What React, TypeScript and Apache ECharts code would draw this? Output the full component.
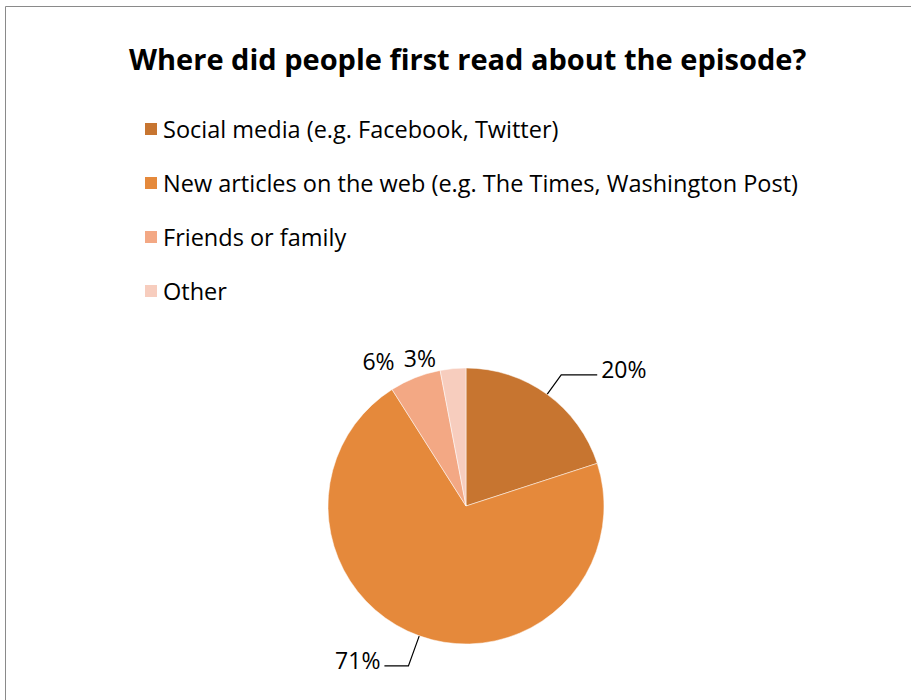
import React, { useEffect, useRef } from "react";
import * as echarts from "echarts";

const categories = [
  "Social media (e.g. Facebook, Twitter)",
  "New articles on the web (e.g. The Times, Washington Post)",
  "Friends or family",
  "Other",
];
const values = [20, 71, 6, 3];
const colors = ["#C77530", "#E5893B", "#F3A884", "#F7CDBE"];
const titleText = "Where did people first read about the episode?";

const lineLengths = [
  { show: true, length: 24, length2: 36 },
  { show: true, length: 32, length2: 24 },
  { show: false, length: 18, length2: 10 },
  { show: false, length: 11, length2: 12 },
];
const raiseLabel = [true, true, false, false];

export default function App() {
  const ref = useRef<HTMLDivElement>(null);
  useEffect(() => {
    if (!ref.current) return;
    const chart = echarts.init(ref.current, null, { renderer: "svg" });
    const font = "Open Sans";
    chart.setOption({
      animation: false,
      backgroundColor: "#ffffff",
      graphic: [
        {
          type: "rect",
          shape: { x: 5.5, y: 6.5, width: 1000, height: 800 },
          style: { fill: "none", stroke: "#8a8a8a", lineWidth: 1 },
          silent: true,
          z: -1,
        },
      ],
      title: {
        text: titleText,
        left: 124,
        top: 39,
        textStyle: { fontFamily: font, fontWeight: "bold", fontSize: 29, color: "#000" },
      },
      legend: {
        orient: "vertical",
        left: 138,
        top: 112,
        itemWidth: 14,
        itemHeight: 14,
        itemGap: 30,
        itemTextGap: 7,
        icon: "rect",
        textStyle: { fontFamily: font, fontSize: 23.5, color: "#000", lineHeight: 24 },
        data: categories,
      },
      series: [
        {
          type: "pie",
          center: [466, 506],
          radius: 138,
          startAngle: 90,
          clockwise: true,
          avoidLabelOverlap: false,
          itemStyle: { borderColor: "#ffffff", borderWidth: 0.5 },
          label: {
            show: true,
            position: "outside",
            formatter: (p: any) =>
              `{t|${Math.round(p.percent)}%}` + (raiseLabel[p.dataIndex] ? "\n{s|}" : ""),
            rich: {
              t: { fontFamily: font, fontSize: 23, color: "#000", lineHeight: 28 },
              s: { fontSize: 10, lineHeight: 12, height: 12 },
            },
            distanceToLabelLine: 4,
          },
          labelLine: {
            show: true,
            length: 24,
            length2: 18,
            lineStyle: { color: "#000", width: 1.2 },
          },
          data: categories.map((name, i) => ({
            name,
            value: values[i],
            itemStyle: { color: colors[i] },
            labelLine: lineLengths[i],
          })),
        },
      ],
    });
    return () => chart.dispose();
  }, []);
  return (
    <div
      ref={ref}
      style={{ position: "absolute", left: 0, top: 0, width: 911, height: 700 }}
    />
  );
}
